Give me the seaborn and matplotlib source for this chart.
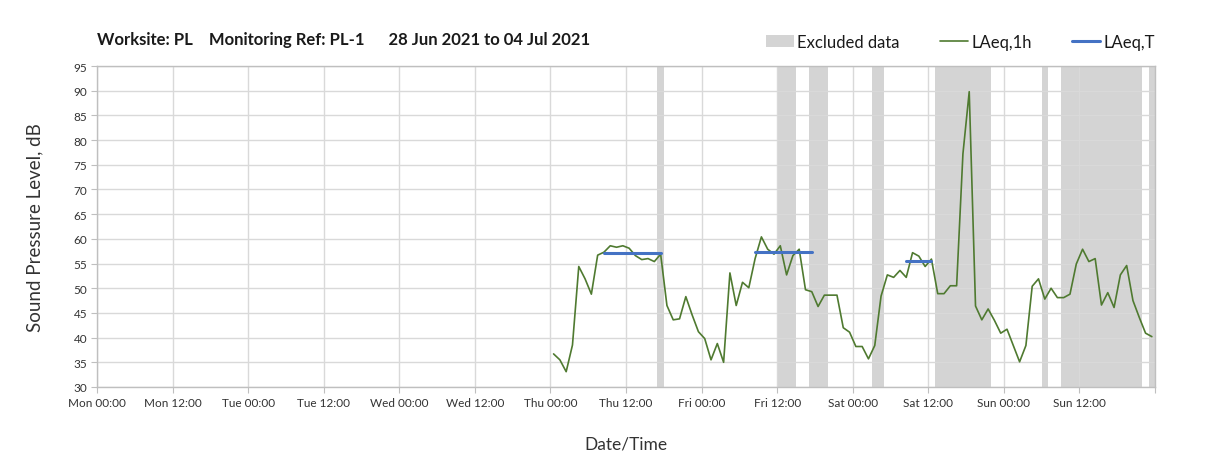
import pandas as pd
import matplotlib.pyplot as plt
from matplotlib.patches import Patch
from matplotlib.lines import Line2D
import seaborn as sns

# --- data ---
week_start = "2021-06-28 00:00"
week_end = "2021-07-05 00:00"
first_reading = "2021-07-01 00:30"

# hourly LAeq,1h values, dB (Thu 00:30 onwards)
laeq_1h = [
    36.7, 35.5, 33.1, 38.5, 54.4, 51.9, 48.8, 56.7, 57.3, 58.6, 58.3, 58.6,
    58.1, 56.6, 55.8, 56.0, 55.4, 56.9, 46.5, 43.6, 43.8, 48.3, 44.6, 41.2,
    39.8, 35.5, 38.8, 35.0, 53.1, 46.5, 51.2, 50.1, 56.0, 60.4, 57.9, 56.9,
    58.6, 52.7, 56.6, 57.9, 49.7, 49.3, 46.3, 48.6, 48.6, 48.6, 42.0, 41.1,
    38.2, 38.2, 35.7, 38.4, 48.4, 52.7, 52.2, 53.6, 52.2, 57.2, 56.5, 54.4,
    55.9, 48.9, 48.9, 50.5, 50.5, 77.2, 89.8, 46.4, 43.6, 45.8, 43.5, 40.9,
    41.7, 38.4, 35.1, 38.4, 50.4, 51.9, 47.8, 50.0, 48.1, 48.1, 48.8, 54.9,
    57.9, 55.4, 56.0, 46.6, 49.1, 46.1, 52.7, 54.6, 47.5, 44.1, 40.9, 40.2,
]

# periods with excluded data
excluded_start = ["2021-07-01 17:00", "2021-07-02 12:00", "2021-07-02 17:00",
                  "2021-07-03 03:00", "2021-07-03 13:00", "2021-07-04 06:00",
                  "2021-07-04 09:00", "2021-07-04 23:00"]
excluded_end = ["2021-07-01 18:00", "2021-07-02 15:00", "2021-07-02 20:00",
                "2021-07-03 05:00", "2021-07-03 22:00", "2021-07-04 07:00",
                "2021-07-04 22:00", "2021-07-05 00:00"]

# LAeq,T over each assessment period
laeqT_start = ["2021-07-01 08:30", "2021-07-02 08:30", "2021-07-03 08:30"]
laeqT_end = ["2021-07-01 17:30", "2021-07-02 17:30", "2021-07-03 12:30"]
laeqT_value = [57.1, 57.4, 55.6]

GREEN = "#4f7a30"
BLUE = "#4472c4"
GREY_BAND = "#d4d4d4"
GRID = "#d9d9d9"

df = pd.DataFrame({
    "time": pd.date_range(first_reading, periods=len(laeq_1h), freq="h"),
    "laeq": laeq_1h,
})

rows = []
for i, (s, e, v) in enumerate(zip(laeqT_start, laeqT_end, laeqT_value)):
    rows.append({"time": pd.Timestamp(s), "level": v, "period": i})
    rows.append({"time": pd.Timestamp(e), "level": v, "period": i})
laeqT_df = pd.DataFrame(rows)

sns.set_style("white")
plt.rcParams["font.family"] = ["Lato", "DejaVu Sans"]

fig = plt.figure(figsize=(12.1, 4.77), dpi=100)
ax = fig.add_axes([97 / 1210, 89 / 477, 1058 / 1210, 321 / 477])

for s, e in zip(excluded_start, excluded_end):
    ax.axvspan(pd.Timestamp(s), pd.Timestamp(e), color=GREY_BAND, lw=0, zorder=0.2)

sns.lineplot(data=df, x="time", y="laeq", color=GREEN, lw=1.2, ax=ax, zorder=3)
sns.lineplot(data=laeqT_df, x="time", y="level", units="period", estimator=None,
             color=BLUE, lw=2.2, ax=ax, zorder=4)

ax.set_xlim(pd.Timestamp(week_start), pd.Timestamp(week_end))
ax.set_ylim(30, 95)
ax.set_yticks(range(30, 96, 5))

ticks = pd.date_range(week_start, week_end, freq="12h")
ax.set_xticks(ticks)
ax.set_xticklabels([t.strftime("%a %H:%M") for t in ticks[:-1]] + [""])

ax.set_axisbelow(True)
ax.grid(True, color=GRID, lw=1)
for side in ["left", "right", "top", "bottom"]:
    ax.spines[side].set_color("#bfbfbf")
    ax.spines[side].set_linewidth(1)
ax.tick_params(axis="both", which="both", length=4, color="#bfbfbf",
               labelsize=8.5, labelcolor="#333333", pad=3)
ax.tick_params(axis="both", direction="out", bottom=True, left=True)

ax.set_xlabel("Date/Time", fontsize=12.5, color="#333333", labelpad=20)
ax.set_ylabel("Sound Pressure Level, dB", fontsize=13.5, color="#333333", labelpad=22)

fig.text(97 / 1210, 1 - 40 / 477,
         "Worksite: PL    Monitoring Ref: PL-1      28 Jun 2021 to 04 Jul 2021",
         fontsize=12, fontweight="bold", color="#1a1a1a", va="center", ha="left")

handles = [
    Patch(facecolor=GREY_BAND, edgecolor="none"),
    Line2D([], [], color=GREEN, lw=1.2),
    Line2D([], [], color=BLUE, lw=2.2),
]
fig.legend(handles, ["Excluded data", "LAeq,1h", "LAeq,T"], ncol=3,
           loc="center right", bbox_to_anchor=(1162 / 1210, 1 - 43 / 477),
           frameon=False, fontsize=12, handlelength=1.7, handletextpad=0.2,
           columnspacing=2.4, labelcolor="#1a1a1a", borderaxespad=0)

fig.savefig("out.png", dpi=100)
